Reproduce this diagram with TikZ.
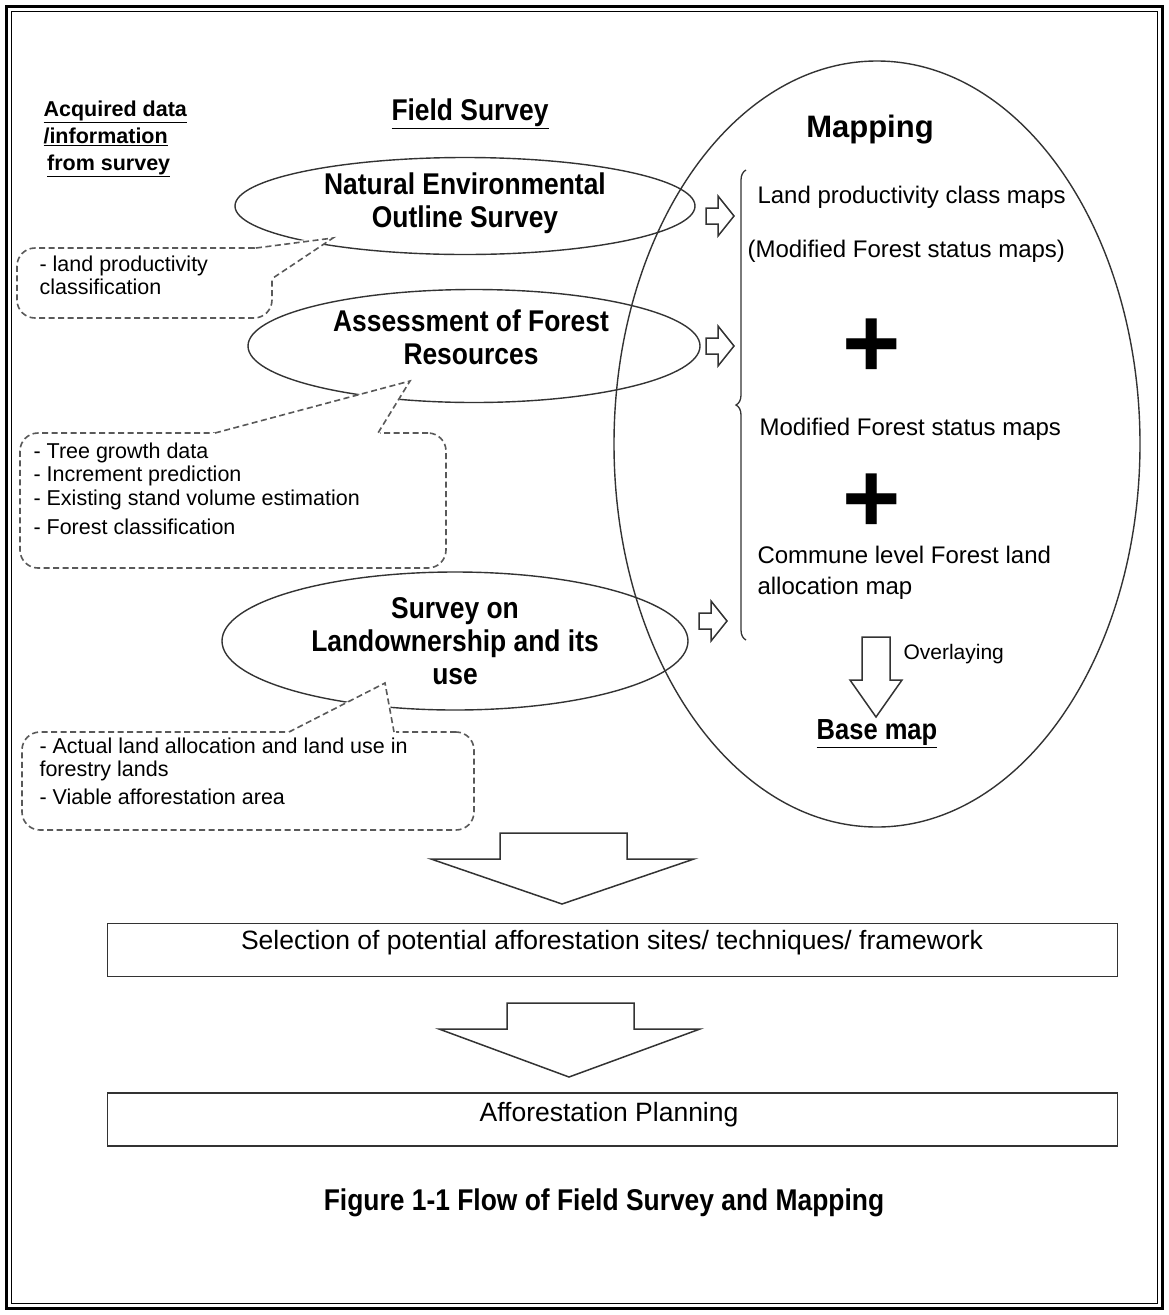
\documentclass[tikz,border=0pt]{standalone}
\usepackage{fontspec}
\setmainfont{Liberation Sans}
\newfontfamily\narrowfont[FakeStretch=0.88]{Liberation Sans}
\usetikzlibrary{shapes.geometric,decorations.pathreplacing}

\begin{document}
\begin{tikzpicture}[
  x=1pt, y=-1pt,
  survey/.style={draw=black!80,line width=1.4pt,ellipse,inner sep=0pt},
  survtext/.style={align=center,font=\narrowfont\bfseries\fontsize{30}{33}\selectfont},
  callbox/.style={draw=black!65,dash pattern=on 6pt off 3.5pt,line width=1.6pt,rounded corners=18pt,fill=white,inner sep=0pt},
  callline/.style={draw=black!65,dash pattern=on 6pt off 3.5pt,line width=1.6pt},
  calltext/.style={align=left,anchor=north west,font=\fontsize{21.5}{23.5}\selectfont},
  maptext/.style={anchor=west,align=left,font=\fontsize{24}{31}\selectfont},
  flowbox/.style={draw=black!80,line width=1.8pt,minimum width=1010,minimum height=53,inner sep=0pt},
  flowtext/.style={font=\fontsize{26.5}{30}\selectfont},
  blockarrow/.style={draw=black!80,line width=1.5pt,fill=white,line join=miter},
  plussign/.style={font=\bfseries\fontsize{100}{100}\selectfont,inner sep=0pt}
]
\useasboundingbox (0,0) rectangle (1169,1315);

% frame
\draw[line width=3pt] (6.5,6.5) rectangle (1162.5,1308.5);
\draw[line width=1.4pt] (11.5,11.5) rectangle (1157.5,1303.5);

% headings
\node[anchor=west,align=left,font=\bfseries\fontsize{21.5}{27}\selectfont] (acq) at (40,139)
  {\underline{Acquired data}\\\underline{/information}\\\,\underline{from survey}};
\node[font=\narrowfont\bfseries\fontsize{30}{33}\selectfont] (fs) at (470,114) {\underline{Field Survey}};

% mapping side
\node[survey,minimum width=526,minimum height=766] (map) at (877,444) {};
\node[font=\bfseries\fontsize{31}{35}\selectfont] (mtitle) at (870,130) {Mapping};

% survey ellipses
\node[survey,minimum width=460,minimum height=97] (nat) at (465,206) {};
\node[survtext] (nat-t) at (465,203) {Natural Environmental\\Outline Survey};
\node[survey,minimum width=452,minimum height=113] (afr) at (474,346) {};
\node[survtext] (afr-t) at (471,337) {Assessment of Forest\\Resources};
\node[survey,minimum width=466,minimum height=138] (lan) at (455,641) {};
\node[survtext] (lan-t) at (455,641) {Survey on\\Landownership and its\\use};

% callouts
\node[callbox,minimum width=255,minimum height=70] (cb1) at (144.5,283) {};
\fill[white] (256,244) -- (333,238) -- (275,279) -- (268,279) -- (255,252) -- cycle;
\draw[callline] (256,248) -- (333,238) -- (273,278);
\node[calltext] (cb1-t) at (36,252) {- land productivity\\classification};

\node[callbox,minimum width=426,minimum height=135] (cb2) at (233,500.5) {};
\fill[white] (213,433) -- (410,381) -- (380,433) -- (380,437) -- (213,437) -- cycle;
\draw[callline] (215,433) -- (410,381) -- (378,433);
\node[calltext] (cb2-t) at (30,439) {- Tree growth data\\- Increment prediction\\- Existing stand volume estimation\\[6pt]- Forest classification};

\node[callbox,minimum width=452,minimum height=98] (cb3) at (248,781) {};
\fill[white] (287,732) -- (385,683) -- (396,732) -- (396,736) -- (287,736) -- cycle;
\draw[callline] (289,732) -- (385,683) -- (394,732);
\node[calltext] (cb3-t) at (36,734) {- Actual land allocation and land use in\\forestry lands\\[4pt]- Viable afforestation area};

% arrows into the mapping
\foreach \ax/\ay in {706/216, 706/346, 699/621}
  \draw[blockarrow] (\ax,\ay-8) -- (\ax+12,\ay-8) -- (\ax+12,\ay-20) -- (\ax+28,\ay)
    -- (\ax+12,\ay+20) -- (\ax+12,\ay+8) -- (\ax,\ay+8) -- cycle;

\draw[decorate,decoration={brace,amplitude=10pt,aspect=0.5},line width=1.3pt,black!80]
  (746,640) -- (746,170);

\node[maptext] (lpc) at (754,197) {Land productivity class maps};
\node[maptext] (mfs1) at (744,251) {(Modified Forest status maps)};
\node[plussign] (plus1) at (872,348) {+};
\node[maptext] (mfs2) at (756,429) {Modified Forest status maps};
\node[plussign] (plus2) at (872,503) {+};
\node[maptext] (clf) at (754,573) {Commune level Forest land\\allocation map};

\draw[blockarrow] (862,637) -- (890,637) -- (890,680) -- (902,680) -- (876,717)
  -- (850,680) -- (862,680) -- cycle;
\node[anchor=west,font=\fontsize{21}{24}\selectfont] (ovl) at (900,654) {Overlaying};
\node[font=\narrowfont\bfseries\fontsize{29}{32}\selectfont] (base) at (877,734) {\underline{Base map}};

% flow downwards
\draw[blockarrow] (500,833) -- (627,833) -- (627,859) -- (694,859) -- (562,904)
  -- (431,859) -- (500,859) -- cycle;
\node[flowbox] (sel) at (612.5,950) {};
\node[flowtext] (sel-t) at (612,943) {Selection of potential afforestation sites/ techniques/ framework};

\draw[blockarrow] (507,1003) -- (634,1003) -- (634,1029) -- (700,1029) -- (569,1077)
  -- (439,1029) -- (507,1029) -- cycle;
\node[flowbox] (plan) at (612.5,1119.5) {};
\node[flowtext] (plan-t) at (609,1115) {Afforestation Planning};

\node[font=\narrowfont\bfseries\fontsize{30}{33}\selectfont] (cap) at (604,1203)
  {Figure 1-1 Flow of Field Survey and Mapping};

\end{tikzpicture}
\end{document}
